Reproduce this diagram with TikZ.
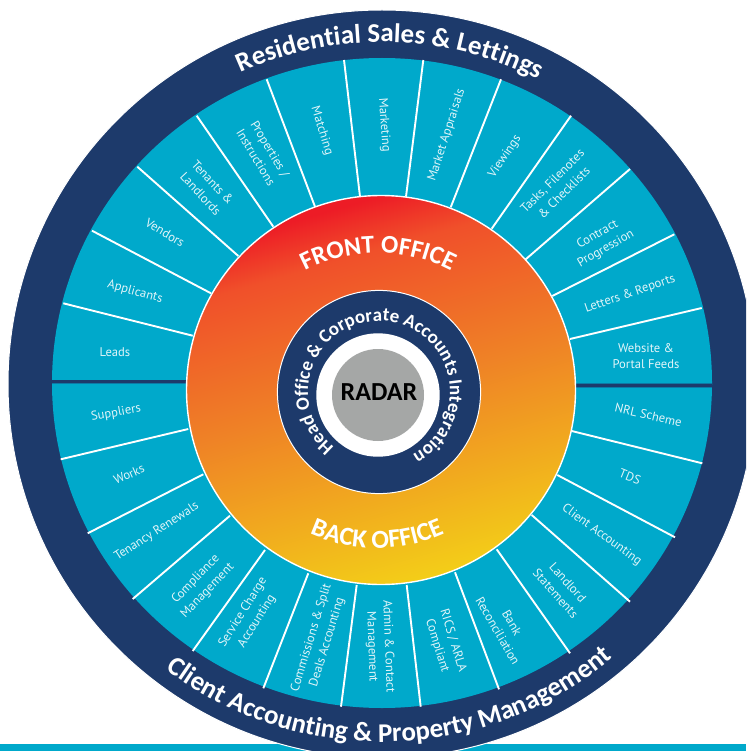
\documentclass[tikz,border=0pt]{standalone}
\usepackage{fontspec}
\setmainfont{PT Sans}
\newfontfamily\headfont{Carlito}[BoldFont={Carlito Bold}]
\usetikzlibrary{decorations.text}
\definecolor{navy}{HTML}{1D3A6B}
\definecolor{teal}{HTML}{00A9CB}
\definecolor{seam}{HTML}{0C7AA6}
\definecolor{hubgrey}{HTML}{A5A7A6}
\definecolor{labelc}{HTML}{E2F5F9}
\definecolor{gradtop}{HTML}{ED1C26}
\definecolor{gradhigh}{HTML}{F0502A}
\definecolor{gradmid}{HTML}{EF8226}
\definecolor{gradbot}{HTML}{F3CE18}
\pgfdeclareverticalshading{discgrad}{100bp}{color(0bp)=(gradbot); color(25bp)=(gradbot); color(50bp)=(gradmid); color(67.5bp)=(gradhigh); color(74bp)=(gradtop); color(100bp)=(gradtop)}
\newcommand{\titlef}{\color{white}\headfont\bfseries\fontsize{27}{27}\selectfont}
\newcommand{\frontf}{\color{white}\headfont\bfseries\fontsize{25.5}{26}\selectfont}
\newcommand{\backf}{\color{white}\headfont\bfseries\fontsize{26}{26}\selectfont}
\newcommand{\ringf}{\color{white}\headfont\bfseries\fontsize{19}{19}\selectfont}
\tikzset{
  seglabel/.style={text=labelc,font=\fontsize{12.6}{16.5}\selectfont,align=center,inner sep=0pt},
  divider/.style={draw=white,line width=1.9pt},
  seamline/.style={draw=seam,line width=4.4pt},
  seamcore/.style={draw=navy,line width=2.6pt},
  arctext/.style={decorate,decoration={text along path,text align=center,text={#1}}}
}
\begin{document}
\begin{tikzpicture}[x=1pt,y=1pt]
\clip (0,0) rectangle (746,-751);
\fill[white] (0,0) rectangle (746,-751);
\fill[teal] (0,-744) rectangle (746,-751);
\coordinate (c) at (382,-384);
\fill[navy,draw=white,line width=1pt] (c) circle[radius=374];
\fill[teal] (382,-383) circle[x radius=330,y radius=325];
% dividers
\foreach \ax/\ay/\bx/\by in {
 63.3/303.3/192.7/335.7, 92/230.7/211/293.3, 137.3/166.7/238.3/256, 196.7/115.7/273.3/226.7,
 266.7/79.3/315/206.7, 344/60/360/196.7, 423.3/60/406/196.7, 501/79.3/450.7/207.3,
 571/115.7/491.7/228.7, 630/169/525.7/259.3, 674.3/234.3/552.3/296, 701.7/308/570/339,
 60.7/459.3/188.3/429, 87.7/533.3/203.3/474.3, 132.7/599/230/515.7, 192.7/651/265/550,
 263.3/688.3/308.3/573.3, 341/706.7/356.7/585, 420.7/706.7/406.7/585, 499/689.3/455/572.3,
 570/653.3/496.7/549.3, 630/601.7/531.7/515, 675/537.3/557.3/475, 702.3/463.3/571.7/431}
  {\draw[divider] (\ax,-\ay) -- (\bx,-\by);}
\draw[seamline] (52.3,-381.7) -- (190,-381.7);
\draw[seamcore] (52.3,-381.7) -- (190,-381.7);
\draw[seamline] (570,-385.3) -- (711.7,-385.3);
\draw[seamcore] (570,-385.3) -- (711.7,-385.3);
% gradient disc
\shade[shading=discgrad,shading angle=16] (381,-390) circle[radius=194.5];
\draw[white,line width=1.4pt] (381,-390) circle[radius=194.5];
% hub
\fill[navy,draw=white,line width=1pt] (379,-392) circle[radius=101.6];
\fill[white] (378,-395) circle[radius=61.7];
\fill[hubgrey] (378,-395) circle[radius=46];
\node[text=black,font=\headfont\bfseries\fontsize{26}{26}\selectfont,inner sep=0pt] (radar) at (379,-392) {RADAR};
% curved headings
\path[arctext={|\titlef|Residential Sales {\&} Lettings}]
  (c) ++(128.6:342) arc[start angle=128.6,end angle=48.6,radius=342];
\path[arctext={|\titlef|Client Accounting {\&} Property Management}]
  (c) ++(216.5:358) arc[start angle=216.5,end angle=326.5,radius=358];
\path[arctext={|\ringf|Head Office {\&} Corporate Accounts Integration}]
  (379,-392) ++(239.5:71) arc[start angle=239.5,end angle=-70.5,radius=71];
\path[arctext={|\frontf|FRONT OFFICE}]
  (378,-410) ++(150:157) arc[start angle=150,end angle=30,radius=157];
\path[arctext={|\backf|BACK OFFICE}]
  (377,-385) ++(210:163) arc[start angle=210,end angle=330,radius=163];
% segment labels
\node[seglabel,rotate=0]   (n01) at (115,-352.5) {Leads};
\node[seglabel,rotate=-15] (n02) at (135,-292) {Applicants};
\node[seglabel,rotate=-31] (n03) at (165,-232.7) {Vendors};
\node[seglabel,rotate=-47] (n04) at (206.7,-188) {Tenants \&\\Landlords};
\node[seglabel,rotate=-59] (n05) at (263,-153) {Properties /\\Instructions};
\node[seglabel,rotate=-73] (n06) at (321.7,-130.7) {Matching};
\node[seglabel,rotate=-86] (n07) at (384,-125) {Marketing};
\node[seglabel,rotate=72]  (n08) at (446.7,-135) {Market Appraisals};
\node[seglabel,rotate=56]  (n09) at (505,-156.7) {Viewings};
\node[seglabel,rotate=45]  (n10) at (558,-186.7) {Tasks, Filenotes\\\& Checklists};
\node[seglabel,rotate=30]  (n11) at (601.7,-241.7) {Contract\\Progression};
\node[seglabel,rotate=19]  (n12) at (630,-294) {Letters \& Reports};
\node[seglabel,rotate=0]   (n13) at (646,-356) {Website \&\\Portal Feeds};
\node[seglabel,rotate=10]  (s01) at (116,-413) {Suppliers};
\node[seglabel,rotate=24]  (s02) at (129,-474.3) {Works};
\node[seglabel,rotate=33]  (s03) at (156.7,-531.7) {Tenancy Renewals};
\node[seglabel,rotate=46]  (s04) at (201.7,-585) {Compliance\\Management};
\node[seglabel,rotate=58]  (s05) at (250,-616.7) {Service Charge\\Accounting};
\node[seglabel,rotate=73]  (s06) at (319.3,-640) {Commissions \& Split\\Deals Accounting};
\node[seglabel,rotate=-88] (s07) at (380,-646.7) {Admin \& Contact\\Management};
\node[seglabel,rotate=-73] (s08) at (445,-643.3) {RICS / ARLA\\Compliant};
\node[seglabel,rotate=-60] (s09) at (505,-626.7) {Bank\\Reconciliation};
\node[seglabel,rotate=-48] (s10) at (561.7,-588) {Landlord\\Statements};
\node[seglabel,rotate=-36] (s11) at (601.7,-535) {Client Accounting};
\node[seglabel,rotate=-22] (s12) at (630,-476.7) {TDS};
\node[seglabel,rotate=-13] (s13) at (648.3,-415) {NRL Scheme};
\end{tikzpicture}
\end{document}
